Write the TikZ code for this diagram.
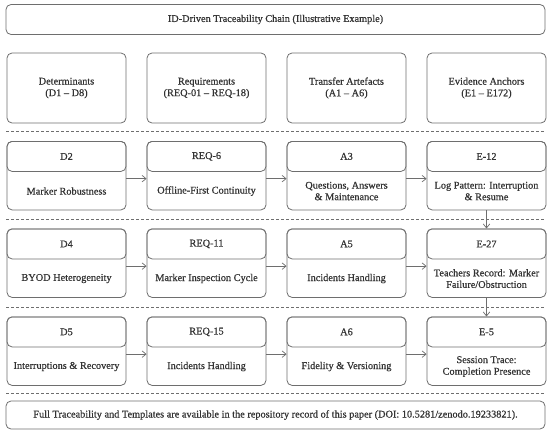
\documentclass[tikz,border=0pt]{standalone}
\usepackage{fontspec}
\setmainfont{Liberation Serif}[FakeBold=0.6]
\usetikzlibrary{arrows.meta,calc}
\definecolor{linegray}{HTML}{6E6E6E}
\definecolor{textgray}{HTML}{333333}
\newcommand\mycell[5]{%
  \node[cellbox, anchor=north] (#1) at (#2,#3) {};
  \node[headbox, anchor=north] (#1h) at (#1.north) {#4};
  \node[celltext] (#1t) at ($(#1h.south)!0.5!(#1.south)$) {#5};
}
\begin{document}
\begin{tikzpicture}[x=1pt,y=-1pt,
  basefont/.style={font=\fontsize{10.3}{11.6}\selectfont, text=textgray},
  frame/.style={draw=linegray, line width=0.8pt, rounded corners=5pt},
  cellbox/.style={frame, minimum width=119pt, minimum height=68.5pt, inner sep=0pt},
  headbox/.style={frame, basefont, minimum width=119pt, minimum height=30pt, inner sep=0pt},
  celltext/.style={basefont, align=center, inner sep=0pt},
  topbox/.style={frame, basefont, align=center, minimum width=119pt, minimum height=70pt, inner sep=0pt},
  widebox/.style={frame, basefont, minimum width=539pt, inner sep=0pt},
  sep/.style={draw=linegray, line width=0.6pt, dash pattern=on 3pt off 2pt},
  arr/.style={draw=linegray, line width=0.7pt, -{Straight Barb[length=4pt,width=6.5pt]}}
]
\useasboundingbox (0,0) rectangle (550,434);

\node[widebox, minimum height=30pt] (title) at (275.5,19.5) {ID-Driven Traceability Chain (Illustrative Example)};

\node[topbox] (hd) at (66.5,88) {Determinants\\(D1 – D8)};
\node[topbox] (hr) at (206.5,88) {Requirements\\(REQ-01 – REQ-18)};
\node[topbox] (ha) at (346.5,88) {Transfer Artefacts\\(A1 – A6)};
\node[topbox] (he) at (486.5,88) {Evidence Anchors\\(E1 – E172)};

\draw[sep] (6,131) -- (545,131);
\draw[sep] (6,219.5) -- (545,219.5);
\draw[sep] (6,307) -- (545,307);
\draw[sep] (6,393) -- (545,393);

% row 1
\mycell{d2}{66.5}{141}{D2}{Marker Robustness}
\mycell{r6}{206.5}{141}{REQ-6}{Offline-First Continuity}
\mycell{a3}{346.5}{141}{A3}{Questions, Answers\\\& Maintenance}
\mycell{e12}{486.5}{141}{E-12}{Log Pattern: Interruption\\\& Resume}
% row 2
\mycell{d4}{66.5}{228.5}{D4}{BYOD Heterogeneity}
\mycell{r11}{206.5}{228.5}{REQ-11}{Marker Inspection Cycle}
\mycell{a5}{346.5}{228.5}{A5}{Incidents Handling}
\mycell{e27}{486.5}{228.5}{E-27}{Teachers Record: Marker\\Failure/Obstruction}
% row 3
\mycell{d5}{66.5}{316.5}{D5}{Interruptions \& Recovery}
\mycell{r15}{206.5}{316.5}{REQ-15}{Incidents Handling}
\mycell{a6}{346.5}{316.5}{A6}{Fidelity \& Versioning}
\mycell{e5}{486.5}{316.5}{E-5}{Session Trace:\\Completion Presence}

\foreach \a/\b in {d2/r6,r6/a3,a3/e12,d4/r11,r11/a5,a5/e27,d5/r15,r15/a6,a6/e5}
  \draw[arr] ([yshift=-3pt]\a.east) -- ([yshift=-3pt]\b.west);
\draw[arr] (e12.south) -- (e27.north);
\draw[arr] (e27.south) -- (e5.north);

\node[widebox, minimum height=28pt] (foot) at (275.5,415) {Full Traceability and Templates are available in the repository record of this paper (DOI: 10.5281/zenodo.19233821).};
\end{tikzpicture}
\end{document}
